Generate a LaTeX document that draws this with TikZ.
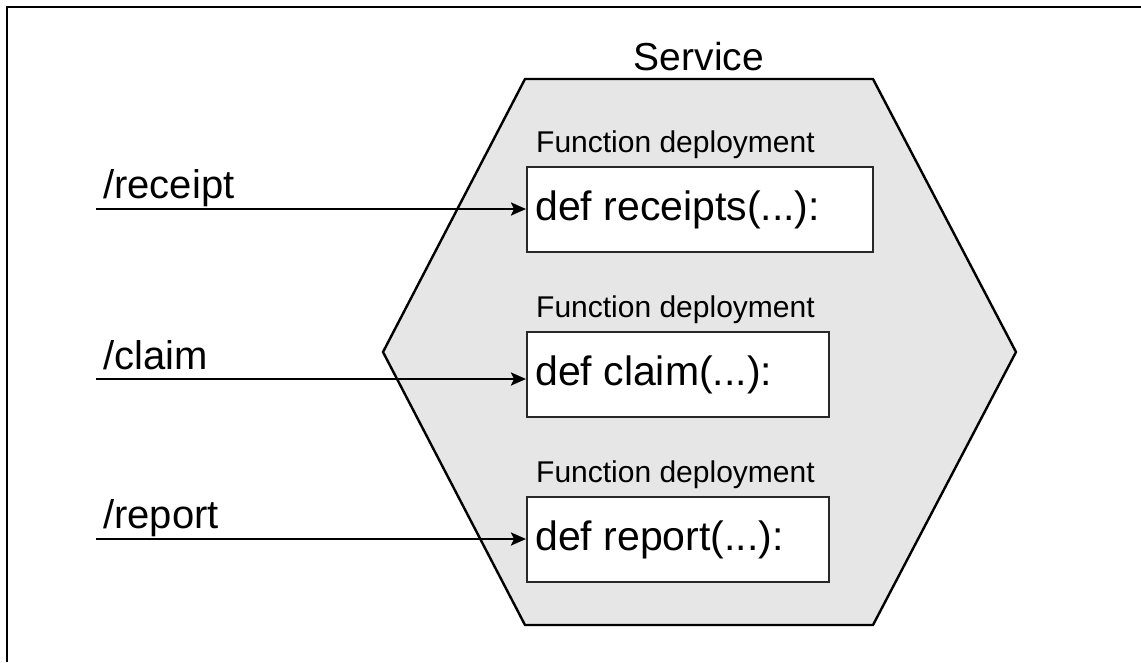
\documentclass[tikz,border=0pt]{standalone}
\usepackage{fontspec}
\setmainfont{Liberation Sans}
\usetikzlibrary{arrows.meta}
\definecolor{hexgray}{RGB}{230,230,230}
\definecolor{boxline}{RGB}{40,40,40}
\begin{document}
\begin{tikzpicture}[x=1pt,y=-1pt,
  frameline/.style={line width=2.2pt, draw=black},
  hexa/.style={draw=black, fill=hexgray, line width=2.4pt, line join=miter},
  fbox/.style={draw=boxline, fill=white, line width=2.4pt, anchor=north west, minimum height=85pt, inner sep=0pt},
  codetext/.style={font=\fontsize{41}{48}\selectfont, anchor=base west, inner sep=0pt},
  deplabel/.style={font=\fontsize{30}{36}\selectfont, anchor=base west, inner sep=0pt},
  routelabel/.style={font=\fontsize{40}{48}\selectfont, anchor=base west, inner sep=0pt},
  titletext/.style={font=\fontsize{39}{46}\selectfont, anchor=base, inner sep=0pt},
  flow/.style={line width=2.4pt, draw=black, -{Stealth[length=15pt 0 0,width=13pt 0 0,inset=3pt 0]}}
]
\useasboundingbox (0,0) rectangle (1141,662);
% partial frame (top and left edges only)
\draw[frameline] (7,662) -- (7,7) -- (1141,7);
% service hexagon
\coordinate (h1) at (525,79);
\coordinate (h2) at (873,79);
\coordinate (h3) at (1016,352);
\coordinate (h4) at (873,625);
\coordinate (h5) at (525,625);
\coordinate (h6) at (383,352);
\draw[hexa] (h1) -- (h2) -- (h3) -- (h4) -- (h5) -- (h6) -- cycle;
\node[titletext] (service) at (699,70) {Service};
% function boxes
\node[fbox, minimum width=346pt] (f1) at (526,166) {};
\node[fbox, minimum width=302pt] (f2) at (526,331) {};
\node[fbox, minimum width=302pt] (f3) at (526,496) {};
% deployment labels
\node[deplabel] (d1) at (536,152) {Function deployment};
\node[deplabel] (d2) at (536,317) {Function deployment};
\node[deplabel] (d3) at (536,482) {Function deployment};
% code text
\node[codetext] (c1) at (535,220) {def receipts(...):};
\node[codetext] (c2) at (535,385) {def claim(...):};
\node[codetext] (c3) at (535,550) {def report(...):};
% route labels
\node[routelabel] (r1) at (103,198) {/receipt};
\node[routelabel] (r2) at (103,369) {/claim};
\node[routelabel] (r3) at (103,528) {/report};
% connectors
\coordinate (s1) at (96,209);
\coordinate (s2) at (96,379);
\coordinate (s3) at (96,539);
\draw[flow] (s1) -- (s1 -| f1.west);
\draw[flow] (s2) -- (s2 -| f2.west);
\draw[flow] (s3) -- (s3 -| f3.west);
\end{tikzpicture}
\end{document}
